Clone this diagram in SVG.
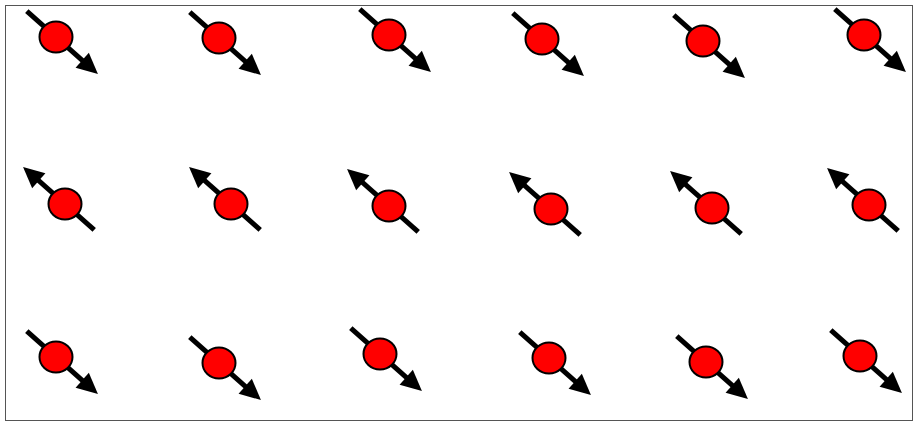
<svg xmlns="http://www.w3.org/2000/svg" xmlns:xlink="http://www.w3.org/1999/xlink" width="917" height="423" viewBox="0 0 917 423">
<style>
.frame{fill:#fff;stroke:#555;stroke-width:1}
.shaft{stroke:#000;stroke-width:5;fill:none}
.head{fill:#000}
.atom{fill:#f00;stroke:#000;stroke-width:2}
</style>
<defs>
<g id="spin">
<line class="shaft" x1="-39" y1="0" x2="40" y2="0"/>
<polygon class="head" points="35,-10 56,0 35,10"/>
</g>
</defs>
<rect class="frame" x="5.5" y="5.5" width="907" height="415"/>
<g id="connectors"></g>
<g id="a11"><use xlink:href="#spin" transform="translate(56,37) rotate(41.5)"/><ellipse class="atom" cx="56" cy="37" rx="16.5" ry="15.5"/></g>
<g id="a12"><use xlink:href="#spin" transform="translate(219,38) rotate(41.5)"/><ellipse class="atom" cx="219" cy="38" rx="16.5" ry="15.5"/></g>
<g id="a13"><use xlink:href="#spin" transform="translate(389,35) rotate(41.5)"/><ellipse class="atom" cx="389" cy="35" rx="16.5" ry="15.5"/></g>
<g id="a14"><use xlink:href="#spin" transform="translate(542,39) rotate(41.5)"/><ellipse class="atom" cx="542" cy="39" rx="16.5" ry="15.5"/></g>
<g id="a15"><use xlink:href="#spin" transform="translate(703,41) rotate(41.5)"/><ellipse class="atom" cx="703" cy="41" rx="16.5" ry="15.5"/></g>
<g id="a16"><use xlink:href="#spin" transform="translate(864,35) rotate(41.5)"/><ellipse class="atom" cx="864" cy="35" rx="16.5" ry="15.5"/></g>
<g id="a21"><use xlink:href="#spin" transform="translate(65,204) rotate(221.5)"/><ellipse class="atom" cx="65" cy="204" rx="16.5" ry="15.5"/></g>
<g id="a22"><use xlink:href="#spin" transform="translate(231,204) rotate(221.5)"/><ellipse class="atom" cx="231" cy="204" rx="16.5" ry="15.5"/></g>
<g id="a23"><use xlink:href="#spin" transform="translate(389,206) rotate(221.5)"/><ellipse class="atom" cx="389" cy="206" rx="16.5" ry="15.5"/></g>
<g id="a24"><use xlink:href="#spin" transform="translate(551,209) rotate(221.5)"/><ellipse class="atom" cx="551" cy="209" rx="16.5" ry="15.5"/></g>
<g id="a25"><use xlink:href="#spin" transform="translate(712,208) rotate(221.5)"/><ellipse class="atom" cx="712" cy="208" rx="16.5" ry="15.5"/></g>
<g id="a26"><use xlink:href="#spin" transform="translate(869,205) rotate(221.5)"/><ellipse class="atom" cx="869" cy="205" rx="16.5" ry="15.5"/></g>
<g id="a31"><use xlink:href="#spin" transform="translate(56,357) rotate(41.5)"/><ellipse class="atom" cx="56" cy="357" rx="16.5" ry="15.5"/></g>
<g id="a32"><use xlink:href="#spin" transform="translate(219,363) rotate(41.5)"/><ellipse class="atom" cx="219" cy="363" rx="16.5" ry="15.5"/></g>
<g id="a33"><use xlink:href="#spin" transform="translate(380,354) rotate(41.5)"/><ellipse class="atom" cx="380" cy="354" rx="16.5" ry="15.5"/></g>
<g id="a34"><use xlink:href="#spin" transform="translate(549,358) rotate(41.5)"/><ellipse class="atom" cx="549" cy="358" rx="16.5" ry="15.5"/></g>
<g id="a35"><use xlink:href="#spin" transform="translate(706,362) rotate(41.5)"/><ellipse class="atom" cx="706" cy="362" rx="16.5" ry="15.5"/></g>
<g id="a36"><use xlink:href="#spin" transform="translate(860,356) rotate(41.5)"/><ellipse class="atom" cx="860" cy="356" rx="16.5" ry="15.5"/></g>
</svg>
